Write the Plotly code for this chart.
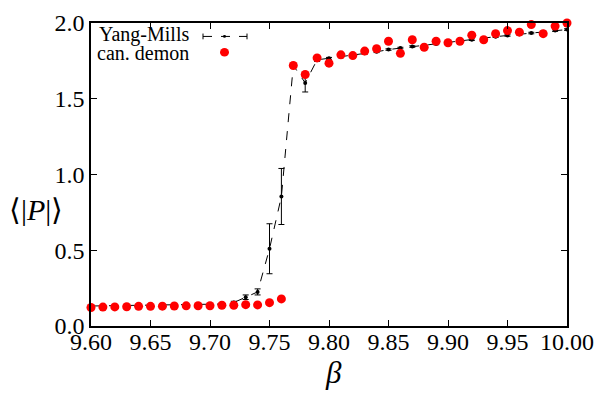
import plotly.graph_objects as go

# ---------------- data ----------------
beta = [9.60, 9.61, 9.62, 9.63, 9.64, 9.65, 9.66, 9.67, 9.68, 9.69,
        9.70, 9.71, 9.72, 9.73, 9.74, 9.75, 9.76, 9.77, 9.78, 9.79,
        9.80, 9.81, 9.82, 9.83, 9.84, 9.85, 9.86, 9.87, 9.88, 9.89,
        9.90, 9.91, 9.92, 9.93, 9.94, 9.95, 9.96, 9.97, 9.98, 9.99, 10.00]

ym_P = [0.132, 0.133, 0.134, 0.135, 0.136, 0.137, 0.138, 0.139, 0.140, 0.141,
        0.142, 0.145, 0.155, 0.190, 0.225, 0.510, 0.855, 1.720, 1.605, 1.757,
        1.767, 1.776, 1.786, 1.800, 1.810, 1.825, 1.835, 1.845, 1.853, 1.862,
        1.870, 1.880, 1.890, 1.900, 1.910, 1.918, 1.926, 1.934, 1.942, 1.950, 1.957]

ym_err = [0.004, 0.004, 0.004, 0.004, 0.004, 0.004, 0.004, 0.004, 0.004, 0.004,
          0.004, 0.005, 0.008, 0.015, 0.020, 0.165, 0.185, 0.015, 0.060, 0.010,
          0.006, 0.005, 0.005, 0.005, 0.005, 0.005, 0.005, 0.005, 0.005, 0.005,
          0.005, 0.005, 0.005, 0.005, 0.005, 0.005, 0.005, 0.005, 0.005, 0.005, 0.005]

demon_P = [0.122, 0.125, 0.126, 0.127, 0.130, 0.130, 0.131, 0.132, 0.133, 0.134,
           0.134, 0.137, 0.137, 0.141, 0.139, 0.154, 0.179, 1.720, 1.660, 1.770,
           1.735, 1.790, 1.785, 1.815, 1.830, 1.880, 1.800, 1.890, 1.840, 1.880,
           1.870, 1.880, 1.920, 1.890, 1.930, 1.950, 1.940, 1.990, 1.930, 1.980, 2.000]

x_ticks = [9.60, 9.65, 9.70, 9.75, 9.80, 9.85, 9.90, 9.95, 10.00]
y_ticks = [0.0, 0.5, 1.0, 1.5, 2.0]

# ---------------- layout constants ----------------
W, H = 604, 394
ML, MR, MT, MB = 91, 37, 10, 68
PW, PH = W - ML - MR, H - MT - MB
FONT = "'Liberation Serif', 'Times New Roman', serif"


def px(x):
    return (x - ML) / PW


def py(y):
    return (H - MB - y) / PH


fig = go.Figure()

fig.add_trace(go.Scatter(
    x=beta, y=ym_P, mode="lines+markers", name="Yang-Mills",
    line=dict(color="black", width=1, dash="dash"),
    marker=dict(color="black", size=4),
    error_y=dict(type="data", array=ym_err, color="black", thickness=1, width=3),
    showlegend=False,
))

fig.add_trace(go.Scatter(
    x=beta, y=demon_P, mode="markers", name="can. demon",
    marker=dict(color="#ff0000", size=9),
    cliponaxis=False, showlegend=False,
))

axis_common = dict(
    showgrid=False, zeroline=False, showline=True, linecolor="black", linewidth=1.5,
    mirror="ticks", ticks="inside", ticklen=6, tickwidth=1, tickcolor="black",
    ticklabeloverflow="allow",
)

fig.update_layout(
    width=W, height=H,
    margin=dict(l=ML, r=MR, t=MT, b=MB),
    paper_bgcolor="white", plot_bgcolor="white",
    xaxis=dict(range=[9.60, 10.00], tickvals=x_ticks, tickformat=".2f",
               tickfont=dict(family=FONT, size=24, color="black"),
               ticklabelstandoff=-7, **axis_common),
    yaxis=dict(range=[0.0, 2.0003], tickvals=y_ticks, tickformat=".1f",
               tickfont=dict(family=FONT, size=24, color="black"), **axis_common),
    font=dict(family=FONT, color="black"),
)

# axis titles
fig.add_annotation(xref="paper", yref="paper", x=px(333), y=py(374),
                   text="<i>β</i>", showarrow=False,
                   font=dict(family=FONT, size=31, color="black"),
                   xanchor="center", yanchor="middle")
fig.add_annotation(xref="paper", yref="paper", x=px(36), y=py(204),
                   text="⟨|<i>P</i>|⟩", showarrow=False,
                   font=dict(family=FONT, size=30, color="black"),
                   xanchor="center", yanchor="middle")

# custom gnuplot-style legend (text left, sample right)
fig.add_annotation(xref="paper", yref="paper", x=px(191), y=py(22),
                   text="Yang-Mills", showarrow=False,
                   font=dict(family=FONT, size=20, color="black"),
                   xanchor="right", yanchor="middle")
fig.add_annotation(xref="paper", yref="paper", x=px(191), y=py(41),
                   text="can. demon", showarrow=False,
                   font=dict(family=FONT, size=20, color="black"),
                   xanchor="right", yanchor="middle")

shapes = [
    dict(type="line", xref="paper", yref="paper", x0=px(203), x1=px(247), y0=py(24), y1=py(24),
         line=dict(color="black", width=1, dash="dash")),
    dict(type="line", xref="paper", yref="paper", x0=px(203), x1=px(203), y0=py(21), y1=py(27),
         line=dict(color="black", width=1)),
    dict(type="line", xref="paper", yref="paper", x0=px(247), x1=px(247), y0=py(21), y1=py(27),
         line=dict(color="black", width=1)),
    dict(type="circle", xref="paper", yref="paper", x0=px(223), x1=px(226), y0=py(22.5), y1=py(25.5),
         fillcolor="black", line=dict(width=0)),
    dict(type="circle", xref="paper", yref="paper", x0=px(220), x1=px(229), y0=py(36), y1=py(45),
         fillcolor="#ff0000", line=dict(width=0)),
]
fig.update_layout(shapes=shapes)

fig.write_html("out.html")
